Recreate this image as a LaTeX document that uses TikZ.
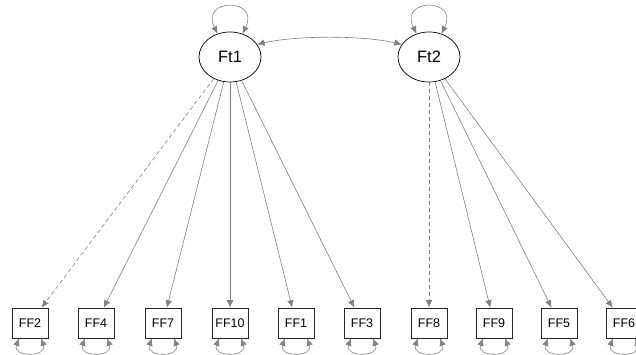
\documentclass[tikz,border=0pt]{standalone}
\usepackage{fontspec}
\setmainfont{Liberation Sans}
\usetikzlibrary{arrows.meta,shapes.geometric}
\definecolor{edgegray}{HTML}{808080}
\begin{document}
\begin{tikzpicture}[x=1pt,y=-1pt,
  latent/.style={ellipse,draw=black,line width=0.7pt,minimum width=62pt,minimum height=50pt,inner sep=0pt,font=\fontsize{16.5}{18}\selectfont},
  manifest/.style={rectangle,draw=black!85,line width=0.7pt,minimum width=36pt,minimum height=30pt,inner sep=0pt,font=\fontsize{12.5}{14}\selectfont},
  arr/.style={draw=edgegray,line width=0.6pt,-{Latex[length=7.5pt,width=6.5pt]}},
  darr/.style={draw=edgegray,line width=0.6pt,{Latex[length=7.5pt,width=6.5pt]}-{Latex[length=7.5pt,width=6.5pt]}},
  dash arr/.style={arr,dash pattern=on 4pt off 3pt}]
\useasboundingbox (0,0) rectangle (636,355);
\node[latent] (Ft1) at (230,57) {Ft1};
\node[latent] (Ft2) at (429,57) {Ft2};
\foreach \n/\x in {FF2/30,FF4/96,FF7/163,FF10/230,FF1/296,FF3/362,FF8/429,FF9/494,FF5/559,FF6/624}{
  \node[manifest] (\n) at (\x,323) {\n};
  \draw[darr] ([xshift=-11pt]\n.south) .. controls +(-7,19) and +(7,19) .. ([xshift=11pt]\n.south);
}
\draw[darr] (Ft1.118) .. controls +(-18,-36) and +(18,-36) .. (Ft1.62);
\draw[darr] (Ft2.118) .. controls +(-18,-36) and +(18,-36) .. (Ft2.62);
\draw[darr] (Ft1.25) .. controls +(40,-9) and +(-40,-9) .. (Ft2.155);
\draw[dash arr] (Ft1) -- (FF2);
\foreach \n in {FF4,FF7,FF10,FF1,FF3}{\draw[arr] (Ft1) -- (\n);}
\draw[dash arr] (Ft2) -- (FF8);
\foreach \n in {FF9,FF5,FF6}{\draw[arr] (Ft2) -- (\n);}
\end{tikzpicture}
\end{document}
